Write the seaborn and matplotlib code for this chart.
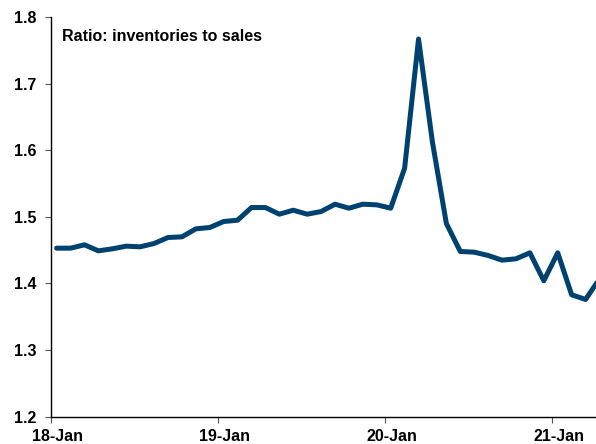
import numpy as np
import pandas as pd
import matplotlib
matplotlib.use("Agg")
import matplotlib.pyplot as plt
from matplotlib.transforms import ScaledTranslation
import seaborn as sns

# Monthly inventories-to-sales ratio, Jan 2018 .. Apr 2021
months = pd.date_range("2018-01-01", periods=40, freq="MS").strftime("%y-%b").tolist()
ratio = [1.453, 1.453, 1.458, 1.449, 1.452, 1.456, 1.455, 1.460, 1.469, 1.470, 1.482, 1.484,
         1.493, 1.495, 1.514, 1.514, 1.504, 1.510, 1.504, 1.508, 1.519, 1.513, 1.519, 1.518,
         1.513, 1.573, 1.767, 1.612, 1.490, 1.448, 1.447, 1.442, 1.435, 1.437, 1.446, 1.404,
         1.446, 1.383, 1.376, 1.407]
tick_labels = ["18-Jan", "19-Jan", "20-Jan", "21-Jan"]
y_ticks = [1.2, 1.3, 1.4, 1.5, 1.6, 1.7, 1.8]
title = "Ratio: inventories to sales"

sns.set_theme(style="white")
plt.rcParams["font.family"] = ["Liberation Sans", "DejaVu Sans"]

df = pd.DataFrame({"month": months, "ratio": ratio})
df["pos"] = np.arange(len(df)) + 0.43

fig = plt.figure(figsize=(5.96, 4.44), dpi=100)
ax = fig.add_axes([0.085, 0.0615, 0.915, 0.9002])
sns.lineplot(data=df, x="pos", y="ratio", ax=ax, color="#00426F", linewidth=3.6,
             solid_joinstyle="round", solid_capstyle="round")

ax.set_xlim(0, 39.18)
ax.set_ylim(1.2, 1.8)
ax.set_xticks([0, 12, 24, 36])
ax.set_xticklabels(tick_labels)
ax.set_yticks(y_ticks)
ax.set_yticklabels([f"{v:.1f}" for v in y_ticks])
ax.set_xlabel("")
ax.set_ylabel("")

for s in ["top", "right"]:
    ax.spines[s].set_visible(False)
for s in ["left", "bottom"]:
    ax.spines[s].set_color("black")
    ax.spines[s].set_linewidth(1.0)

ax.tick_params(axis="both", which="major", direction="out", length=4, width=0.8,
               color="#555555", labelsize=11.5, labelcolor="black")
ax.tick_params(axis="x", pad=5)
ax.tick_params(axis="y", pad=6)
ax.tick_params(axis="both", left=True, bottom=True)
for lab in ax.get_xticklabels() + ax.get_yticklabels():
    lab.set_fontweight("bold")
for lab in ax.get_xticklabels():
    lab.set_transform(lab.get_transform() + ScaledTranslation(7 / 100, 0, fig.dpi_scale_trans))

ax.text(0.021, 0.95, title, transform=ax.transAxes, fontsize=11.5, fontweight="bold",
        ha="left", va="center", color="black")

fig.savefig("out.png", dpi=100)
